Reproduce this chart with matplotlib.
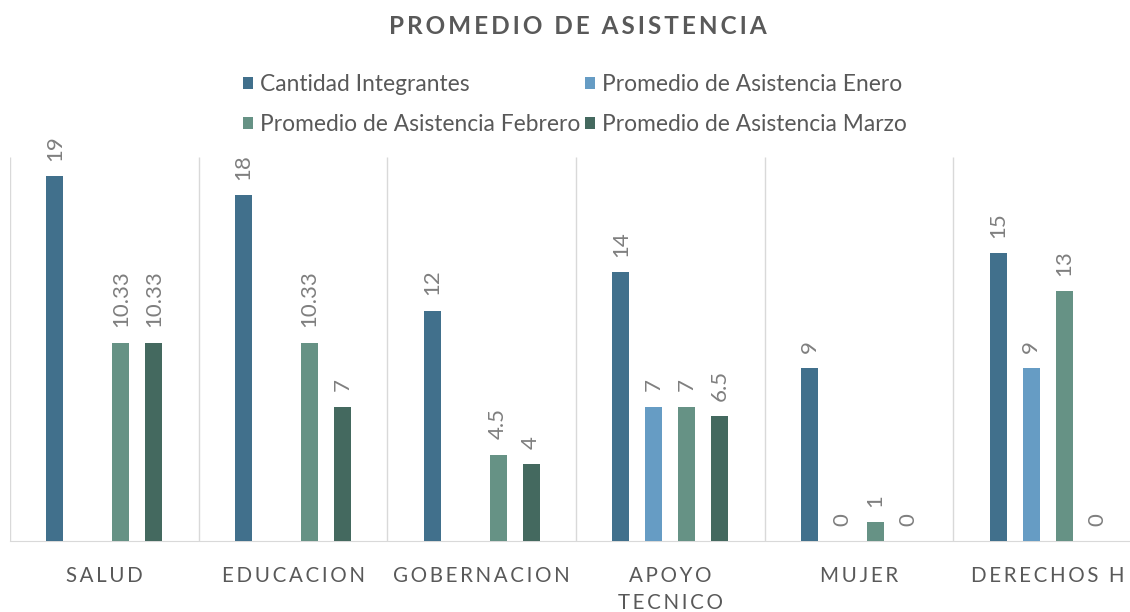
import numpy as np
import matplotlib
matplotlib.use("Agg")
from matplotlib import pyplot as plt

categories = ["SALUD", "EDUCACION", "GOBERNACION", "APOYO\nTECNICO", "MUJER", "DERECHOS H"]
series_names = ["Cantidad Integrantes", "Promedio de Asistencia Enero",
                "Promedio de Asistencia Febrero", "Promedio de Asistencia Marzo"]
integrantes = [19, 18, 12, 14, 9, 15]
enero = [np.nan, np.nan, np.nan, 7, 0, 9]
febrero = [10.33, 10.33, 4.5, 7, 1, 13]
marzo = [10.33, 7, 4, 6.5, 0, 0]

colors = ["#41708c", "#669cc4", "#669285", "#44695f"]
text_gray = "#595959"
label_gray = "#7f7f7f"

plt.rcParams['font.family'] = ['Lato', 'DejaVu Sans']


def spaced(s, sep="\u2009"):
    # fake letter spacing
    return "\n".join(sep.join(line) for line in s.split("\n"))


fig = plt.figure(figsize=(11.3, 6.12), dpi=100)
ax = fig.add_axes([10 / 1130, 71 / 612, 1132 / 1130, 384 / 612])

x = np.arange(len(categories))
step = 0.175
width = 0.09
bars = []
for i, (name, vals) in enumerate(zip(series_names, [integrantes, enero, febrero, marzo])):
    b = ax.bar(x + (i - 1.5) * step, vals, width, color=colors[i], label=name, zorder=3)
    bars.append(b)
    for xi, v in zip(x, vals):
        if np.isnan(v):
            continue
        ax.annotate(f"{v:g}", (xi + (i - 1.5) * step, v), xytext=(0, 11),
                    textcoords="offset points", rotation=90, ha="center", va="bottom",
                    fontsize=16, color=label_gray)

ax.set_xlim(-0.5, len(categories) - 0.5)
ax.set_ylim(0, 20)
ax.vlines(np.arange(-0.5, len(categories)), 0, 20, color="#d9d9d9", lw=1, zorder=1)
for s in ["top", "right", "left"]:
    ax.spines[s].set_visible(False)
ax.spines["bottom"].set_color("#d9d9d9")
ax.set_yticks([])
ax.set_xticks(x)
ax.set_xticklabels([spaced(c) for c in categories], fontsize=14.8, color=text_gray,
                   linespacing=1.45)
ax.tick_params(axis="x", length=0, pad=18)

fig.text(0.511, 1 - 26 / 612, spaced("PROMEDIO DE ASISTENCIA"),
         ha="center", va="center", fontsize=17.5, fontweight="bold", color=text_gray)

order = [0, 2, 1, 3]
handles = [bars[k] for k in order]
labels = [series_names[k] for k in order]
fig.legend(handles, labels, loc="upper center", bbox_to_anchor=(0.509, 0.912), ncol=2,
           frameon=False, fontsize=16.4, labelcolor=text_gray, handlelength=0.45,
           handleheight=0.45, handletextpad=0.3, labelspacing=0.82, columnspacing=0.2)

fig.savefig("out.png", dpi=100)
